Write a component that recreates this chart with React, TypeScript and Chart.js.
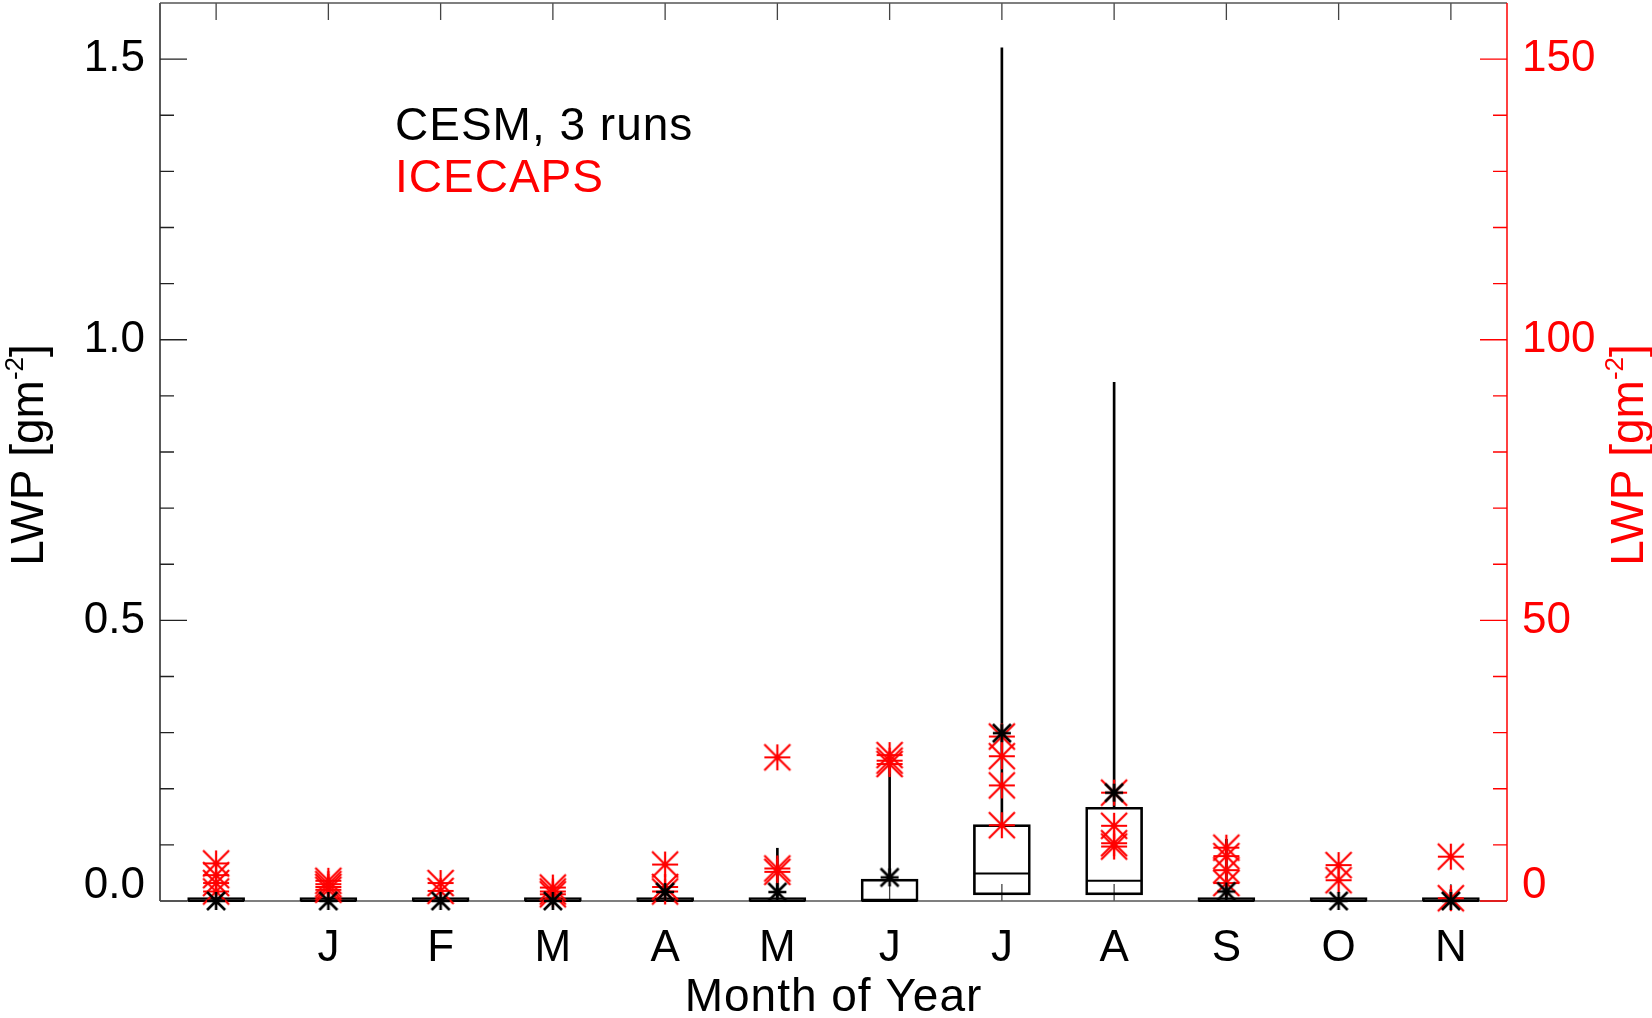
import React, { useEffect, useRef } from 'react';
import { Chart, registerables } from 'chart.js';

Chart.register(...registerables);

// ---------------- data ----------------
const monthLabels = ['', 'J', 'F', 'M', 'A', 'M', 'J', 'J', 'A', 'S', 'O', 'N'];
const monthIndex = [0, 1, 2, 3, 4, 5, 6, 7, 8, 9, 10, 11];

// CESM (left axis, g m^-2) box statistics
const cesmQ1 = [0, 0, 0, 0, 0, 0, 0, 0.011, 0.011, 0, 0, 0];
const cesmMedian = [0, 0, 0, 0, 0, 0, 0, 0.049, 0.036, 0, 0, 0];
const cesmQ3 = [0.006, 0.006, 0.006, 0.006, 0.006, 0.006, 0.039, 0.136, 0.167, 0.006, 0.006, 0.006];
const cesmMax = [0.006, 0.006, 0.006, 0.006, 0.006, 0.094, 0.26, 1.52, 0.924, 0.11, 0.006, 0.02];
const cesmMean = [0, 0, 0, 0, 0.016, 0.016, 0.042, 0.299, 0.193, 0.017, 0, 0];

// ICECAPS (right axis, g m^-2) values per month
const icecapsDec = [6.7, 4.6, 3.2, 1.7];
const icecapsJan = [3.6, 3.0, 2.5, 2.0];
const icecapsFeb = [3.2, 1.8];
const icecapsMar = [2.4, 1.7, 1.2];
const icecapsApr = [6.5, 2.5, 1.7];
const icecapsMay = [25.6, 5.8, 5.2];
const icecapsJun = [26.0, 25.0, 24.4];
const icecapsJul = [29.3, 25.8, 20.6, 13.5];
const icecapsAug = [19.3, 13.4, 10.3, 9.7];
const icecapsSep = [9.5, 8.0, 5.5, 3.2];
const icecapsOct = [6.4, 3.7];
const icecapsNov = [7.9, 0.5];
const icecapsByMonth = [
  icecapsDec, icecapsJan, icecapsFeb, icecapsMar, icecapsApr, icecapsMay,
  icecapsJun, icecapsJul, icecapsAug, icecapsSep, icecapsOct, icecapsNov,
];

// tick values
const leftMajorTicks = [0, 0.5, 1.0, 1.5];
const leftMinorTicks = [0.1, 0.2, 0.3, 0.4, 0.6, 0.7, 0.8, 0.9, 1.1, 1.2, 1.3, 1.4];
const rightMajorTicks = [0, 50, 100, 150];
const rightMinorTicks = [10, 20, 30, 40, 60, 70, 80, 90, 110, 120, 130, 140];

const RED = '#ff0000';
const FONT = '"Liberation Sans", Arial, Helvetica, sans-serif';

function makeAsterisk(size: number, lw: number, color: string): HTMLCanvasElement {
  const pad = Math.ceil(lw);
  const c = document.createElement('canvas');
  c.width = size + pad * 2;
  c.height = size + pad * 2;
  const g = c.getContext('2d')!;
  g.strokeStyle = color;
  g.lineWidth = lw;
  g.lineCap = 'butt';
  const a = pad, b = pad + size, m = pad + size / 2;
  g.beginPath();
  g.moveTo(a, m); g.lineTo(b, m);
  g.moveTo(m, a); g.lineTo(m, b);
  g.moveTo(a, a); g.lineTo(b, b);
  g.moveTo(a, b); g.lineTo(b, a);
  g.stroke();
  return c;
}

function drawTitle(ctx: CanvasRenderingContext2D, cx: number, cy: number, color: string) {
  ctx.save();
  ctx.translate(cx, cy);
  ctx.rotate(-Math.PI / 2);
  ctx.fillStyle = color;
  ctx.textBaseline = 'alphabetic';
  ctx.textAlign = 'left';
  const big = `46px ${FONT}`;
  const small = `26px ${FONT}`;
  ctx.font = big;
  const w1 = ctx.measureText('LWP [gm').width;
  const w3 = ctx.measureText(']').width;
  ctx.font = small;
  const w2 = ctx.measureText('-2').width;
  let x = -(w1 + w2 + w3) / 2 - 3;
  ctx.font = big;
  ctx.fillText('LWP [gm', x, 0);
  x += w1;
  ctx.font = small;
  ctx.fillText('-2', x, -20);
  x += w2;
  ctx.font = big;
  ctx.fillText(']', x, 0);
  ctx.restore();
}

const framePlugin = {
  id: 'idlFrame',
  beforeDatasetsDraw(chart: any) {
    const { ctx, chartArea, scales } = chart;
    const { left, right, top, bottom } = chartArea;
    ctx.save();
    // left axis ticks
    ctx.strokeStyle = '#222';
    ctx.lineWidth = 1.3;
    ctx.beginPath();
    leftMajorTicks.forEach((v) => {
      const y = scales.y.getPixelForValue(v);
      ctx.moveTo(left, y); ctx.lineTo(left + 27, y);
    });
    leftMinorTicks.forEach((v) => {
      const y = scales.y.getPixelForValue(v);
      ctx.moveTo(left, y); ctx.lineTo(left + 14, y);
    });
    ctx.stroke();
    // top and bottom ticks at months
    ctx.strokeStyle = '#444';
    ctx.beginPath();
    monthIndex.forEach((i) => {
      const x = scales.x.getPixelForValue(i);
      ctx.moveTo(x, top); ctx.lineTo(x, top + 17);
      ctx.moveTo(x, bottom); ctx.lineTo(x, bottom - 17);
    });
    ctx.stroke();
    // frame (left, top, bottom)
    ctx.lineWidth = 1.5;
    ctx.strokeStyle = '#222';
    ctx.beginPath();
    ctx.moveTo(left, bottom); ctx.lineTo(left, top);
    ctx.stroke();
    ctx.strokeStyle = '#555';
    ctx.beginPath();
    ctx.moveTo(left, top); ctx.lineTo(right, top);
    ctx.moveTo(left, bottom); ctx.lineTo(right, bottom);
    ctx.stroke();
    // right axis (red)
    ctx.strokeStyle = RED;
    ctx.lineWidth = 1.3;
    ctx.beginPath();
    rightMajorTicks.forEach((v) => {
      const y = scales.y2.getPixelForValue(v);
      ctx.moveTo(right, y); ctx.lineTo(right - 27, y);
    });
    rightMinorTicks.forEach((v) => {
      const y = scales.y2.getPixelForValue(v);
      ctx.moveTo(right, y); ctx.lineTo(right - 14, y);
    });
    ctx.stroke();
    ctx.lineWidth = 1.5;
    ctx.beginPath();
    ctx.moveTo(right, top); ctx.lineTo(right, bottom);
    ctx.stroke();
    ctx.restore();
  },
  afterDraw(chart: any) {
    const { ctx, chartArea } = chart;
    ctx.save();
    // x axis title
    ctx.fillStyle = '#000';
    ctx.font = `46px ${FONT}`;
    ctx.textAlign = 'center';
    ctx.textBaseline = 'alphabetic';
    (ctx as any).letterSpacing = '1px';
    ctx.fillText('Month of Year', (chartArea.left + chartArea.right) / 2, 1011);
    // legend text
    ctx.textAlign = 'left';
    ctx.fillText('CESM, 3 runs', 395, 140);
    ctx.fillStyle = RED;
    ctx.fillText('ICECAPS', 395, 192);
    (ctx as any).letterSpacing = '0px';
    ctx.restore();
    const midY = (chartArea.top + chartArea.bottom) / 2;
    drawTitle(ctx, 43, midY, '#000');
    drawTitle(ctx, 1643, midY, RED);
  },
};

function noPadding(s: any) {
  s.paddingTop = 0;
  s.paddingBottom = 0;
  s.paddingLeft = 0;
  s.paddingRight = 0;
}

export default function App() {
  const ref = useRef<HTMLCanvasElement>(null);

  useEffect(() => {
    document.body.style.margin = '0';
    const redStar = makeAsterisk(26, 2.2, RED);
    const blackStar = makeAsterisk(18, 2.6, '#000');

    const whiskerData = monthIndex.map((i) => ({ x: i, y: [cesmQ3[i], cesmMax[i]] }));
    const boxData = monthIndex.map((i) => ({ x: i, y: [cesmQ1[i], cesmQ3[i]] }));
    const medianData = monthIndex.map((i) => ({ x: i, y: cesmMedian[i] }));
    const meanData = monthIndex.map((i) => ({ x: i, y: cesmMean[i] }));
    const icecapsData = icecapsByMonth.flatMap((vals, i) => vals.map((v) => ({ x: i, y: v })));

    const tickFont = { family: FONT, size: 44, lineHeight: '30px' };

    const chart = new Chart(ref.current!, {
      type: 'scatter',
      data: {
        datasets: [
          {
            type: 'bar',
            label: 'whisker',
            data: whiskerData as any,
            backgroundColor: '#000',
            borderWidth: 0,
            barThickness: 2,
            grouped: false,
            yAxisID: 'y',
            order: 5,
          } as any,
          {
            type: 'bar',
            label: 'box',
            data: boxData as any,
            backgroundColor: (c: any) => {
              const i = c.dataIndex;
              return i != null && cesmQ3[i] - cesmQ1[i] < 0.01 ? '#000' : 'rgba(0,0,0,0)';
            },
            borderColor: '#000',
            borderWidth: 2,
            borderSkipped: false,
            barThickness: 57,
            grouped: false,
            yAxisID: 'y',
            order: 4,
          } as any,
          {
            type: 'scatter',
            label: 'median',
            data: medianData,
            pointStyle: 'line',
            pointRadius: 28,
            pointBorderColor: '#000',
            pointBorderWidth: 2,
            clip: false,
            yAxisID: 'y',
            order: 3,
          } as any,
          {
            type: 'scatter',
            label: 'ICECAPS',
            data: icecapsData,
            pointStyle: redStar,
            pointRadius: 13,
            clip: false,
            yAxisID: 'y2',
            order: 2,
          } as any,
          {
            type: 'scatter',
            label: 'CESM, 3 runs',
            data: meanData,
            pointStyle: blackStar,
            pointRadius: 9,
            clip: false,
            yAxisID: 'y',
            order: 1,
          } as any,
        ],
      },
      options: {
        responsive: false,
        animation: false,
        devicePixelRatio: 1,
        events: [],
        layout: { autoPadding: false, padding: { top: 3, left: 0, right: 0, bottom: 0 } },
        plugins: { legend: { display: false }, tooltip: { enabled: false } },
        scales: {
          x: {
            type: 'linear',
            position: 'bottom',
            offset: false,
            min: -0.5,
            max: 11.5,
            grid: { display: false, drawTicks: false, offset: false },
            border: { display: false },
            afterBuildTicks: (s: any) => { s.ticks = monthIndex.map((v) => ({ value: v })); },
            afterFit: (s: any) => { s.height = 117; noPadding(s); },
            ticks: {
              autoSkip: false,
              maxRotation: 0,
              minRotation: 0,
              padding: 21,
              color: '#000',
              font: { family: FONT, size: 44 },
              callback: (v: any) => monthLabels[Math.round(Number(v))] ?? '',
            },
          },
          y: {
            type: 'linear',
            position: 'left',
            min: 0,
            max: 1.6,
            grid: { display: false, drawTicks: false },
            border: { display: false },
            afterBuildTicks: (s: any) => { s.ticks = leftMajorTicks.map((v) => ({ value: v })); },
            afterFit: (s: any) => { s.width = 160; noPadding(s); },
            ticks: {
              padding: 15,
              color: '#000',
              font: tickFont,
              callback: (v: any) => (Number(v) === 0 ? ['0.0', ''] : Number(v).toFixed(1)),
            },
          },
          y2: {
            type: 'linear',
            position: 'right',
            min: 0,
            max: 160,
            grid: { display: false, drawTicks: false },
            border: { display: false },
            afterBuildTicks: (s: any) => { s.ticks = rightMajorTicks.map((v) => ({ value: v })); },
            afterFit: (s: any) => { s.width = 145; noPadding(s); },
            ticks: {
              padding: 15,
              color: RED,
              font: tickFont,
              callback: (v: any) => (Number(v) === 0 ? ['0', ''] : String(v)),
            },
          },
        },
      } as any,
      plugins: [framePlugin],
    });
    return () => chart.destroy();
  }, []);

  return (
    <div style={{ position: 'relative', width: 1652, height: 1018 }}>
      <canvas ref={ref} width={1652} height={1018} style={{ display: 'block' }} />
    </div>
  );
}
